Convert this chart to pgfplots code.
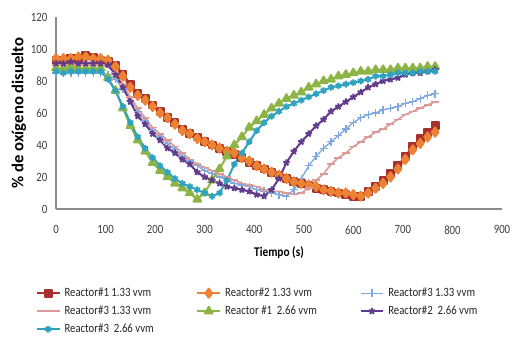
\documentclass[border=0pt]{standalone}
\usepackage{pgfplots}
\usepackage{pgfplotstable}
\pgfplotsset{compat=1.18}
\usepackage{fontspec}
\setmainfont{Carlito}[FakeStretch=0.85]
\newfontfamily\labfont{Carlito}
\definecolor{cR}{HTML}{A8302E}
\definecolor{cO}{HTML}{EE8233}
\definecolor{cLB}{HTML}{7EA8DE}
\definecolor{cP}{HTML}{DC9A98}
\definecolor{cG}{HTML}{8CB545}
\definecolor{cV}{HTML}{613C8C}
\definecolor{cT}{HTML}{2FA2C0}
\pgfplotstableread{
t   ra  ob  lb  pk  gr  pu  te
0   93  94  85  90  88  91  86
15  93  94  85  90  88  91  85
30  94  94  85  90  89  92  86
45  94  95  85  90  88  91  86
60  96  95  85  90  88  91  86
75  95  94  85  90  88  91  86
90  93  94  85  90  88  91  86
105 92  93  84  89  82  90  81
120 90  89  81  85  74  84  74
135 84  83  75  78  63  76  64
150 78  76  68  70  52  67  54
165 72  71  61  63  43  58  45
180 69  68  55  57  36  53  38
195 65  64  49  51  29  47  32
210 61  60  45  47  24  43  27
225 57  57  41  43  20  38  23
240 54  53  37  39  16  35  19
255 50  49  33  35  13  31  16
270 47  47  30  31  10  28  14
285 45  44  27  28  6   23  12
300 42  42  24  26  10  20  10
315 40  40  22  24  18  18  8
330 38  38  20  22  25  16  10
345 36  36  18  20  33  14  18
360 34  35  16  18  40  13  28
375 32  32  15  16  45  12  35
390 29  30  14  15  51  11  42
405 27  27  12  14  55  9   49
420 25  25  11  12  59  8   54
435 23  23  10  11  63  12  58
450 21  21  9   11  66  19  61
465 19  19  8   10  69  29  64
480 17  17  12  9   71  36  66
495 16  16  19  10  73  42  68
510 15  15  27  13  76  47  70
525 13  14  33  18  78  52  72
540 12  12  38  22  80  56  74
555 11  11  42  28  81  61  76
570 10  10  46  32  83  64  77
585 9   10  50  35  84  67  78
600 8   9   54  39  85  70  79
615 8   8   57  42  86  73  80
630 11  10  59  45  86  76  81
645 14  13  60  48  87  78  83
660 18  16  62  50  87  80  83
675 22  20  63  53  87  81  84
690 27  25  64  56  88  82  85
705 33  31  66  59  88  84  85
720 39  37  67  61  88  85  85
735 44  41  69  63  88  85  86
750 48  45  71  65  89  86  86
765 52  48  72  67  89  87  86
}\data
\begin{document}
\begin{tikzpicture}
\path[use as bounding box] (0,0) rectangle (384.75pt,258.75pt);
\begin{axis}[
  at={(42pt,102pt)}, anchor=south west,
  width=334.5pt, height=144pt, scale only axis,
  xmin=0, xmax=900, ymin=0, ymax=120,
  xtick={0,100,...,900}, ytick={0,20,...,120},
  axis lines=left, axis line style={-, draw=black!45, line width=0.8pt},
  major tick length=0pt,
  /pgf/number format/assume math mode=true,
  tick label style={font=\fontsize{9.5}{11}\selectfont, text=black!75},
  xticklabel style={yshift=-9pt},
  yticklabel style={xshift=-3pt},
  xlabel={\textbf{Tiempo (s)}},
  ylabel={\labfont\bfseries \% de oxígeno disuelto},
  xlabel style={font=\fontsize{10}{12}\selectfont, at={(axis description cs:0.5,-0.226)}, anchor=center},
  ylabel style={font=\fontsize{12.5}{14}\selectfont, at={(axis description cs:-0.083,0.5)}, anchor=center},
  legend columns=3,
  legend style={at={(-0.055,-0.385)}, anchor=north west, draw=none,
    font=\fontsize{9.5}{11}\selectfont, text=black!85,
    nodes={inner sep=1pt, text height=7pt, text depth=2pt},
    row sep=2.5pt,
    /tikz/every odd column/.append style={column sep=2pt},
    /tikz/every even column/.append style={column sep=31pt}},
  legend cell align=left,
  every axis plot/.append style={line join=round},
]
\addplot[cR, line width=1.5pt, mark=square*, mark size=2.6pt] table[x=t,y=ra] {\data};
\addlegendentry{Reactor\#1 1.33 vvm}
\addplot[cO, line width=1.5pt, mark=diamond*, mark size=3.4pt] table[x=t,y=ob] {\data};
\addlegendentry{Reactor\#2 1.33 vvm}
\addplot[cLB, line width=1pt, mark=+, mark size=3pt] table[x=t,y=lb] {\data};
\addlegendentry{Reactor\#3 1.33 vvm}
\addplot[cP, line width=1.2pt, mark=-, mark size=3pt] table[x=t,y=pk] {\data};
\addlegendentry{Reactor\#3 1.33 vvm}
\addplot[cG, line width=1.5pt, mark=triangle*, mark size=3.3pt] table[x=t,y=gr] {\data};
\addlegendentry{Reactor \#1 \ 2.66 vvm}
\addplot[cV, line width=1.5pt, mark=star, mark size=2.5pt] table[x=t,y=pu] {\data};
\addlegendentry{Reactor\#2 \ 2.66 vvm}
\addplot[cT, line width=1.5pt, mark=asterisk, mark size=2.5pt] table[x=t,y=te] {\data};
\addlegendentry{Reactor\#3 \ 2.66 vvm}
\end{axis}
\end{tikzpicture}
\end{document}
